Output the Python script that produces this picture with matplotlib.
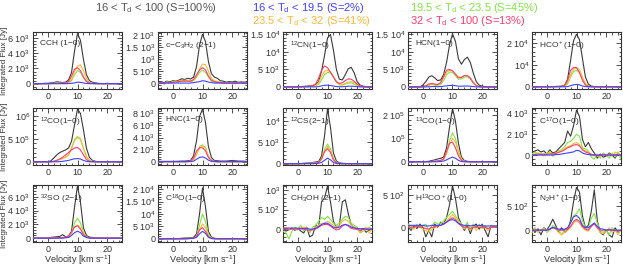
import numpy as np
import matplotlib
matplotlib.use("Agg")
import matplotlib.pyplot as plt
from matplotlib.ticker import MultipleLocator, AutoMinorLocator

plt.rcParams['font.family'] = ['Liberation Sans', 'DejaVu Sans']
plt.rcParams['mathtext.fontset'] = 'custom'
plt.rcParams['mathtext.rm'] = 'Liberation Sans'
plt.rcParams['mathtext.it'] = 'Liberation Sans:italic'
plt.rcParams['mathtext.bf'] = 'Liberation Sans:bold'

# velocity channels (km/s)
velocity = list(range(-5, 26))

# ---------------- data (Jy) : total, blue, green, orange, red ----------------
cch_tot = [-50,-50,0,0,50, 50,100,150,250,200, 150,200,500,1500,4300, 6600,5700,3200,1200,400, 200,100,50,0,0, 50,0,0,0,0, 0]
cch_blu = [0,0,0,0,0, 0,0,0,0,0, 0,0,20,50,100, 200,170,100,30,0, 0,0,0,0,0, 0,0,0,0,0, 0]
cch_grn = [-50,-30,0,0,0, 20,30,50,80,60, 40,50,100,400,1200, 1700,1500,800,300,100, 30,0,0,0,0, 0,0,0,0,0, 0]
cch_org = [0,0,0,0,0, 0,20,30,50,40, 40,50,150,600,1600, 2300,2500,1700,700,200, 50,20,0,0,0, 0,0,0,0,0, 0]
cch_red = [0,0,0,0,0, 0,20,30,60,50, 50,80,300,1000,1900, 2100,1700,900,300,100, 30,0,0,0,0, 0,0,0,0,0, 0]

c3h2_tot = [30,60,20,80,50, 100,80,120,180,150, 200,170,250,700,1600, 2050,1750,900,400,250, 200,100,80,40,60, 50,80,30,50,40, 30]
c3h2_blu = [0,0,0,0,0, 0,0,0,0,0, 0,0,20,40,60, 100,80,40,20,0, 0,0,0,0,0, 0,0,0,0,0, 0]
c3h2_grn = [-30,30,-50,60,20, 50,80,40,100,60, 120,50,100,250,450, 550,450,250,80,40, 20,50,-20,30,0, 40,-30,20,0,10, 0]
c3h2_org = [0,20,-20,30,20, 40,60,80,100,120, 100,90,120,300,600, 800,780,500,200,100, 60,40,20,0,20, 0,20,0,0,0, 0]
c3h2_red = [0,10,0,20,10, 30,50,60,80,90, 80,80,150,350,550, 650,550,300,120,60, 30,20,10,0,0, 0,0,0,0,0, 0]

cn_tot = [0,0,0,0,0, 50,100,150,200,300, 400,700,1500,4500,9000, 14000,15000,10500,5000,2200, 2000,3500,5200,5600,4000, 1500,500,200,100,50, 0]
cn_blu = [0,0,0,0,0, 0,0,0,0,0, 0,0,100,300,450, 500,400,250,100,50, 50,100,200,200,150, 50,0,0,0,0, 0]
cn_grn = [0,0,0,0,0, 0,30,50,80,100, 150,300,800,2000,3500, 4200,4000,2800,1300,600, 500,800,1100,1100,800, 400,100,0,0,0, 0]
cn_org = [0,0,0,0,0, 0,30,60,100,150, 200,400,1200,3000,4500, 4800,4300,3000,1500,800, 700,1000,1400,1500,1200, 600,200,50,0,0, 0]
cn_red = [0,0,0,0,0, 0,50,100,150,200, 300,800,2500,4800,6000, 5500,4200,2800,1500,1000, 1200,1800,2300,2200,1600, 800,300,100,0,0, 0]

hcn_tot = [0,0,0,0,0, 500,1500,2800,3200,2600, 1800,2000,3500,7000,12000, 15200,13000,8000,6500,7800, 8500,7000,4000,1500,500, 200,100,0,0,0, 0]
hcn_blu = [0,0,0,0,0, 0,0,50,100,100, 50,100,200,300,400, 450,350,200,200,250, 250,200,100,0,0, 0,0,0,0,0, 0]
hcn_grn = [0,0,0,0,0, 50,200,500,700,500, 400,700,1800,3500,4200, 4200,3200,2200,2300,2800, 2900,2300,1100,300,50, 0,0,0,0,0, 0]
hcn_org = [0,0,0,0,0, 100,300,700,900,700, 600,1000,2500,4200,4700, 4600,3700,2800,2800,3300, 3300,2600,1300,400,100, 0,0,0,0,0, 0]
hcn_red = [0,0,0,0,0, 100,300,800,1000,800, 700,1200,3000,4800,5000, 4600,3600,2600,2700,3200, 3200,2500,1200,400,100, 0,0,0,0,0, 0]

hco_tot = [0,0,0,0,0, 0,50,100,150,200, 300,600,3500,12000,21000, 24000,21500,13000,4500,1200, 300,100,50,0,0, 0,0,0,0,0, 0]
hco_blu = [0,0,0,0,0, 0,0,0,0,0, 0,0,100,500,900, 1100,900,400,100,0, 0,0,0,0,0, 0,0,0,0,0, 0]
hco_grn = [0,0,0,0,0, 0,0,30,50,80, 100,200,1300,4500,7000, 7500,6500,3500,1000,200, 50,0,0,0,0, 0,0,0,0,0, 0]
hco_org = [0,0,0,0,0, 0,0,50,80,100, 150,300,2000,5500,8000, 8500,8000,4500,1500,300, 50,0,0,0,0, 0,0,0,0,0, 0]
hco_red = [0,0,0,0,0, 0,0,50,100,150, 200,600,3000,7500,8800, 8800,6500,3000,800,200, 50,0,0,0,0, 0,0,0,0,0, 0]

co_tot = [0,0,0,0,0, 0,20000,80000,150000,200000, 230000,260000,300000,450000,800000, 1150000,1050000,700000,300000,100000, 30000,10000,0,0,0, 0,0,0,0,0, 0]
co_blu = [0,0,0,0,0, 0,0,0,0,5000, 10000,20000,30000,50000,65000, 70000,60000,30000,10000,0, 0,0,0,0,0, 0,0,0,0,0, 0]
co_grn = [0,0,0,0,0, 0,0,10000,30000,50000, 70000,100000,150000,300000,480000, 550000,500000,300000,120000,30000, 10000,0,0,0,0, 0,0,0,0,0, 0]
co_org = [0,0,0,0,0, 0,0,10000,30000,50000, 70000,100000,150000,290000,460000, 530000,480000,290000,110000,30000, 10000,0,0,0,0, 0,0,0,0,0, 0]
co_red = [0,0,0,0,0, 0,0,10000,30000,60000, 100000,150000,200000,260000,300000, 310000,260000,150000,50000,10000, 0,0,0,0,0, 0,0,0,0,0, 0]

hnc_tot = [50,50,50,50,50, 50,50,80,100,100, 150,200,1000,3500,7500, 8700,6500,2500,700,200, 150,100,100,100,150, 200,150,100,100,80, 50]
hnc_blu = [0,0,0,0,0, 0,0,0,0,0, 0,0,100,400,700, 800,600,250,50,0, 0,0,0,0,0, 0,0,0,0,0, 0]
hnc_grn = [0,0,0,0,0, 0,0,0,0,0, 0,50,300,1200,2500, 2800,2300,900,200,50, 0,0,0,0,0, 50,0,0,0,0, 0]
hnc_org = [0,0,0,0,0, 0,0,0,0,0, 0,50,300,1200,2300, 2600,2200,800,200,50, 0,0,0,0,0, 0,0,0,0,0, 0]
hnc_red = [0,0,0,0,0, 0,0,0,0,0, 50,150,600,1800,2300, 2300,1800,700,200,50, 0,0,0,0,0, 0,0,0,0,0, 0]

cs_tot = [0,0,0,0,0, 0,50,100,150,200, 300,400,500,1800,6500, 12800,8500,2500,600,200, 100,50,0,0,0, 0,0,0,0,0, 0]
cs_blu = [0,0,0,0,0, 0,0,0,0,0, 0,50,100,300,800, 1300,900,300,50,0, 0,0,0,0,0, 0,0,0,0,0, 0]
cs_grn = [0,0,0,0,0, 0,0,50,80,100, 150,200,300,1200,3300, 4600,3500,1200,300,50, 0,0,0,0,0, 0,0,0,0,0, 0]
cs_org = [0,0,0,0,0, 0,0,30,60,80, 100,150,250,1000,2900, 4000,3000,1000,250,50, 0,0,0,0,0, 0,0,0,0,0, 0]
cs_red = [0,0,0,0,0, 0,0,30,50,80, 100,150,300,1100,2800, 3500,2600,900,200,50, 0,0,0,0,0, 0,0,0,0,0, 0]

co13_tot = [0,0,0,0,0, 0,1000,2000,5000,8000, 12000,15000,20000,60000,150000, 230000,175000,80000,20000,5000, 2000,0,0,0,0, 0,0,0,0,0, 0]
co13_blu = [0,0,0,0,0, 0,0,0,0,0, 0,1000,3000,8000,15000, 20000,15000,6000,1000,0, 0,0,0,0,0, 0,0,0,0,0, 0]
co13_grn = [0,0,0,0,0, 0,0,0,1000,2000, 3000,5000,10000,35000,90000, 125000,100000,45000,10000,2000, 0,0,0,0,0, 0,0,0,0,0, 0]
co13_org = [0,0,0,0,0, 0,0,0,1000,2000, 3000,5000,10000,35000,75000, 100000,85000,40000,10000,2000, 0,0,0,0,0, 0,0,0,0,0, 0]
co13_red = [0,0,0,0,0, 0,0,0,1000,2000, 4000,6000,12000,45000,80000, 85000,60000,25000,6000,1000, 0,0,0,0,0, 0,0,0,0,0, 0]

c17o_tot = [200,400,500,300,400, 100,500,200,300,600, 900,1200,2300,1800,2800, 4300,3700,1500,800,1200, 600,200,-300,100,-200, -100,200,0,-300,200, -100]
c17o_blu = [0,0,0,0,0, 0,0,0,50,50, 100,150,200,250,300, 450,400,200,100,50, 0,0,0,0,0, 0,0,0,0,0, 0]
c17o_grn = [100,300,100,200,-100, 200,300,-100,100,400, 500,800,1200,1300,1600, 2000,1800,700,600,400, -200,-400,100,-300,200, 0,-300,200,-200,300, -400]
c17o_org = [0,100,200,100,0, 100,200,100,200,300, 400,600,800,900,1100, 1200,1000,600,400,300, 100,-100,0,-100,100, 0,100,-100,300,100, 0]
c17o_red = [0,50,100,50,100, 50,100,100,150,250, 350,500,700,800,950, 1000,900,500,300,200, 50,0,-50,0,50, 0,0,-50,50,0, 0]

so_tot = [0,0,0,0,0, 50,100,150,200,250, 500,200,300,1000,4500, 7600,5200,1500,400,150, 100,50,0,0,0, 0,0,0,0,0, 0]
so_blu = [0,0,0,0,0, 0,0,0,0,0, 0,50,100,400,800, 1000,800,300,100,0, 0,0,0,0,0, 0,0,0,0,0, 0]
so_grn = [0,0,0,0,0, 0,0,0,50,50, 100,100,200,700,2200, 2900,2200,800,200,50, 0,0,0,0,0, 0,0,0,0,0, 0]
so_org = [0,0,0,0,0, 0,0,0,0,50, 50,100,200,700,1600, 1900,1500,600,200,50, 0,0,0,0,0, 0,0,0,0,0, 0]
so_red = [0,0,0,0,0, 0,0,0,50,50, 100,150,300,900,1600, 1800,1300,500,150,50, 0,0,0,0,0, 0,0,0,0,0, 0]

c18o_tot = [0,0,0,0,0, 0,0,100,200,300, 300,400,600,2000,10000, 20500,13000,3000,700,200, 100,0,0,0,0, 0,0,0,0,0, 0]
c18o_blu = [0,0,0,0,0, 0,0,0,0,0, 0,100,200,600,2000, 3000,2200,600,100,0, 0,0,0,0,0, 0,0,0,0,0, 0]
c18o_grn = [0,0,0,0,0, 0,0,0,0,100, 100,200,300,900,5500, 10000,7000,1500,300,100, 0,0,0,0,0, 0,0,0,0,0, 0]
c18o_org = [0,0,0,0,0, 0,0,0,0,0, 100,100,200,800,3800, 6000,4500,1200,200,0, 0,0,0,0,0, 0,0,0,0,0, 0]
c18o_red = [0,0,0,0,0, 0,0,0,0,0, 100,200,300,900,3600, 4500,3000,800,200,0, 0,0,0,0,0, 0,0,0,0,0, 0]

ch3oh_tot = [0,-50,-20,30,-30, 20,-50,-100,50,-200, -150,100,50,700,800, 1100,700,200,50,100, 700,750,400,100,50, 0,-50,20,-80,-30, 0]
ch3oh_blu = [30,20,30,20,30, 20,20,20,20,0, 0,20,60,120,150, 150,100,50,30,50, 100,120,100,50,30, 20,10,10,0,0, 0]
ch3oh_grn = [-50,-100,-250,-50,50, 0,100,-50,50,-100, 50,100,200,300,250, 330,250,150,100,150, 250,330,300,150,100, 50,-100,-50,0,50, 0]
ch3oh_org = [0,50,-30,20,0, -20,30,50,20,-30, 0,50,100,150,150, 200,150,100,50,100, 200,250,200,100,50, 0,-80,-50,50,-100, 0]
ch3oh_red = [0,0,0,0,0, 0,0,0,-20,-30, -20,0,50,100,120, 120,80,20,-20,0, 80,120,80,20,0, 0,-30,0,0,0, 0]

h13co_tot = [20,-50,30,-20,50, 0,-150,-50,-150,50, 0,80,50,150,350, 650,450,150,50,-50, 30,-100,20,50,-30, 50,-50,-150,30,0, 20]
h13co_blu = [20,30,30,30,20, 30,20,20,30,30, 30,30,50,80,110, 120,100,60,40,30, 30,20,30,20,30, 20,20,20,20,20, 20]
h13co_grn = [50,30,-30,50,0, 30,50,-50,20,80, 50,60,100,150,200, 250,180,100,60,-30, 80,-50,50,0,50, 0,30,-20,0,30, 0]
h13co_org = [20,0,-20,30,0, -30,-50,-80,-30,0, 20,30,50,100,150, 200,150,80,30,-20, 0,-40,20,-50,30, -20,0,-50,20,0, 0]
h13co_red = [0,0,0,20,0, 0,-20,-30,0,0, 20,30,50,80,120, 150,120,60,20,0, 0,-20,0,0,0, 0,0,-20,0,0, 0]

n2h_tot = [50,-50,30,-100,50, 0,100,230,100,-50, 50,-50,0,200,600, 900,800,300,50,100, 400,850,200,-50,-100, 0,-100,-150,50,-50, 0]
n2h_blu = [0,0,0,0,0, 0,20,60,40,20, 20,20,50,150,280, 310,250,100,50,50, 100,150,80,30,20, 0,10,0,0,0, 0]
n2h_grn = [0,50,-50,0,50, -50,0,100,50,0, -100,0,50,150,300, 350,450,200,50,50, 250,350,150,0,-50, 0,-100,50,0,-50, 0]
n2h_org = [-50,0,-30,0,20, 0,30,50,20,-50, -100,-50,0,50,150, 200,150,50,0,-20, 100,150,50,-50,-80, -30,50,-50,0,-100, 0]
n2h_red = [0,0,0,0,0, 0,20,50,30,0, 0,0,20,80,180, 230,180,80,20,0, 80,130,50,0,0, 0,0,0,0,-20, 0]

# panel labels
line_names = ["CCH (1−0)", "c−C$_3$H$_2$ (2−1)", "$^{12}$CN(1−0)", "HCN(1−0)", "HCO$^+$(1−0)",
              "$^{12}$CO(1−0)", "HNC(1−0)", "$^{12}$CS(2−1)", "$^{13}$CO(1−0)", "C$^{17}$O(1−0)",
              "$^{32}$SO (2−1)", "C$^{18}$O(1−0)", "CH$_3$OH (2−1)", "H$^{13}$CO$^+$(1−0)", "N$_2$H$^+$(1−0)"]

# y tick values and labels per panel
ytick_vals = [[0, 2e3, 4e3, 6e3], [0, 5e2, 1e3, 1.5e3, 2e3], [0, 5e3, 1e4, 1.5e4], [0, 5e3, 1e4, 1.5e4], [0, 1e4, 2e4],
              [0, 5e5, 1e6], [0, 2e3, 4e3, 6e3, 8e3], [0, 5e3, 1e4], [0, 1e5, 2e5], [0, 2e3, 4e3],
              [0, 2e3, 4e3, 6e3], [0, 5e3, 1e4, 1.5e4, 2e4], [0, 5e2, 1e3], [0, 5e2], [0, 5e2]]
ytick_labs = [["0", "2 10$^3$", "4 10$^3$", "6 10$^3$"],
              ["0", "5 10$^2$", "10$^3$", "1.5 10$^3$", "2 10$^3$"],
              ["0", "5 10$^3$", "10$^4$", "1.5 10$^4$"],
              ["0", "5 10$^3$", "10$^4$", "1.5 10$^4$"],
              ["0", "10$^4$", "2 10$^4$"],
              ["0", "5 10$^5$", "10$^6$"],
              ["0", "2 10$^3$", "4 10$^3$", "6 10$^3$", "8 10$^3$"],
              ["0", "5 10$^3$", "10$^4$"],
              ["0", "10$^5$", "2 10$^5$"],
              ["0", "2 10$^3$", "4 10$^3$"],
              ["0", "2 10$^3$", "4 10$^3$", "6 10$^3$"],
              ["0", "5 10$^3$", "10$^4$", "1.5 10$^4$", "2 10$^4$"],
              ["0", "5 10$^2$", "10$^3$"],
              ["0", "5 10$^2$"],
              ["0", "5 10$^2$"]]
ylims = [(-700, 6800), (-250, 2150), (-600, 15700), (-600, 15700), (-1000, 25000),
         (-70000, 1170000), (-550, 8900), (-300, 13000), (-14000, 232000), (-950, 4500),
         (-560, 7700), (-1300, 21700), (-330, 1130), (-230, 660), (-250, 950)]

series = [
    (cch_tot, cch_blu, cch_grn, cch_org, cch_red),
    (c3h2_tot, c3h2_blu, c3h2_grn, c3h2_org, c3h2_red),
    (cn_tot, cn_blu, cn_grn, cn_org, cn_red),
    (hcn_tot, hcn_blu, hcn_grn, hcn_org, hcn_red),
    (hco_tot, hco_blu, hco_grn, hco_org, hco_red),
    (co_tot, co_blu, co_grn, co_org, co_red),
    (hnc_tot, hnc_blu, hnc_grn, hnc_org, hnc_red),
    (cs_tot, cs_blu, cs_grn, cs_org, cs_red),
    (co13_tot, co13_blu, co13_grn, co13_org, co13_red),
    (c17o_tot, c17o_blu, c17o_grn, c17o_org, c17o_red),
    (so_tot, so_blu, so_grn, so_org, so_red),
    (c18o_tot, c18o_blu, c18o_grn, c18o_org, c18o_red),
    (ch3oh_tot, ch3oh_blu, ch3oh_grn, ch3oh_org, ch3oh_red),
    (h13co_tot, h13co_blu, h13co_grn, h13co_org, h13co_red),
    (n2h_tot, n2h_blu, n2h_grn, n2h_org, n2h_red),
]

C_TOT = '#3a3a3a'
C_BLU = '#4040ff'
C_GRN = '#80e840'
C_ORG = '#ffb838'
C_RED = '#ff3c72'
TXT = '#333333'

W, H = 623, 266
fig = plt.figure(figsize=(W / 100, H / 100), dpi=100)

col_left = [33, 158, 283, 408, 532]
row_top = [32, 108, 185]
pw, ph = 89, 57

v = np.array(velocity)
for i, (tot, blu, grn, org, red) in enumerate(series):
    r, c = divmod(i, 5)
    ax = fig.add_axes([col_left[c] / W, 1 - (row_top[r] + ph) / H, pw / W, ph / H])
    ax.plot(v, tot, color=C_TOT, lw=0.8, zorder=2)
    ax.plot(v, grn, color=C_GRN, lw=0.8, zorder=3)
    ax.plot(v, org, color=C_ORG, lw=0.8, zorder=4)
    ax.plot(v, red, color=C_RED, lw=0.8, zorder=5)
    ax.plot(v, blu, color=C_BLU, lw=0.8, zorder=6)
    ax.set_xlim(-5, 25)
    ax.set_ylim(*ylims[i])
    ax.set_xticks([0, 10, 20])
    ax.xaxis.set_minor_locator(MultipleLocator(2))
    ax.set_yticks(ytick_vals[i])
    ax.set_yticklabels(ytick_labs[i])
    ax.yaxis.set_minor_locator(AutoMinorLocator(5))
    ax.tick_params(which='both', direction='in', top=True, right=True, colors=TXT,
                   labelsize=6.5, width=0.6, pad=2)
    ax.tick_params(which='major', length=3.5)
    ax.tick_params(which='minor', length=1.8)
    for s in ax.spines.values():
        s.set_color(TXT)
        s.set_linewidth(0.8)
    ax.text(0.08, 0.86, line_names[i], transform=ax.transAxes, fontsize=6,
            color=TXT, ha='left', va='top')
    if r == 2:
        ax.set_xlabel("Velocity [km s$^{-1}$]", fontsize=6.5, color=TXT, labelpad=0)

for r in range(3):
    yc = 1 - (row_top[r] + ph / 2) / H
    fig.text(5 / W, yc, "Integrated Flux [Jy]", rotation=90, fontsize=5.8,
             color=TXT, ha='center', va='center')

fig.text(95 / W, 1 - 8 / H, "16 < T$_\\mathrm{d}$ < 100 (S=100%)", fontsize=8, color='#555555', ha='left', va='center')
fig.text(252 / W, 1 - 8 / H, "16 < T$_\\mathrm{d}$ < 19.5 (S=2%)", fontsize=8, color=C_BLU, ha='left', va='center')
fig.text(252 / W, 1 - 21.5 / H, "23.5 < T$_\\mathrm{d}$ < 32 (S=41%)", fontsize=8, color=C_ORG, ha='left', va='center')
fig.text(410 / W, 1 - 8 / H, "19.5 < T$_\\mathrm{d}$ < 23.5 (S=45%)", fontsize=8, color=C_GRN, ha='left', va='center')
fig.text(410 / W, 1 - 21.5 / H, "32 < T$_\\mathrm{d}$ < 100 (S=13%)", fontsize=8, color=C_RED, ha='left', va='center')

fig.savefig("out.png", dpi=100)
